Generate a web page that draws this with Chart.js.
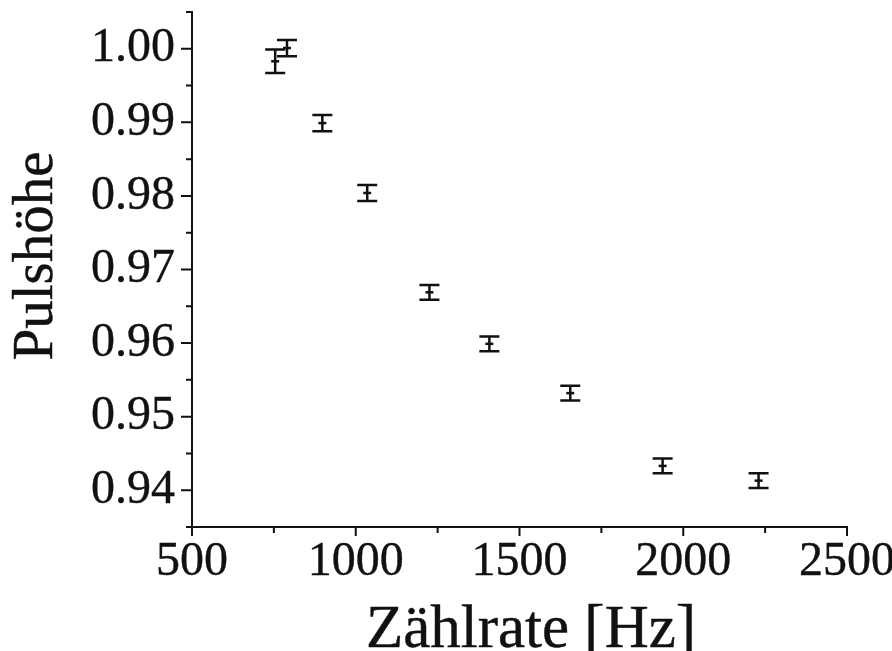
<!DOCTYPE html>
<html>
<head>
<meta charset="utf-8">
<title>Pulshöhe vs. Zählrate</title>
<script src="https://cdn.jsdelivr.net/npm/chart.js@4/dist/chart.umd.min.js"></script>
<style>
  html, body { margin: 0; padding: 0; background: #ffffff; }
  canvas { display: block; }
</style>
</head>
<body>
<canvas id="c" width="892" height="651"></canvas>
<script>
// Count rate (Hz), relative pulse height and its uncertainty
const countRate   = [754, 790, 898, 1035, 1225, 1408, 1655, 1937, 2230];
const pulseHeight = [0.9983, 1.0001, 0.9899, 0.9804, 0.9669, 0.9599, 0.9532, 0.9433, 0.9413];
const pulseError  = [0.0016, 0.0011, 0.0011, 0.0011, 0.0010, 0.0010, 0.0010, 0.0010, 0.0010];

// Axis ranges and tick spacing (labelled ticks every 500 Hz / 0.01)
const xRange = [500, 2500];
const xStep = 250;
const yRange = [0.935, 1.005];
const yStep = 0.005;

const xTitle = 'Zählrate [Hz]';
const yTitle = 'Pulshöhe';

const INK = '#111111';
const SERIF = "'Liberation Serif', 'Times New Roman', serif";

const points = countRate.map((x, i) => ({ x: x, y: pulseHeight[i], err: pulseError[i] }));

const isMajorX = v => Math.round(v) % 500 === 0;
const isMajorY = v => Math.round(v * 1000) % 10 === 0;

// Error bars with caps, drawn through the chart's scales
const errorBars = {
  id: 'errorBars',
  afterDatasetsDraw(chart) {
    const { ctx, scales: { x, y } } = chart;
    ctx.save();
    ctx.strokeStyle = INK;
    ctx.lineWidth = 2.5;
    ctx.lineCap = 'butt';
    chart.data.datasets[0].data.forEach(p => {
      const px = x.getPixelForValue(p.x);
      const top = y.getPixelForValue(p.y + p.err);
      const bot = y.getPixelForValue(p.y - p.err);
      const cap = 10;
      ctx.beginPath();
      ctx.moveTo(px, top); ctx.lineTo(px, bot);
      ctx.moveTo(px - cap, top); ctx.lineTo(px + cap, top);
      ctx.moveTo(px - cap, bot); ctx.lineTo(px + cap, bot);
      ctx.stroke();
    });
    ctx.restore();
  }
};

// Outward tick marks (long for labelled values, short in between) and axis titles
const axisDecor = {
  id: 'axisDecor',
  afterDraw(chart) {
    const { ctx, scales: { x, y }, chartArea } = chart;
    ctx.save();
    ctx.strokeStyle = INK;
    ctx.lineWidth = 2;
    ctx.beginPath();
    x.ticks.forEach(t => {
      const px = x.getPixelForValue(t.value);
      const len = isMajorX(t.value) ? 9 : 6;
      ctx.moveTo(px, chartArea.bottom);
      ctx.lineTo(px, chartArea.bottom + len);
    });
    y.ticks.forEach(t => {
      const py = y.getPixelForValue(t.value);
      const len = isMajorY(t.value) ? 11 : 6;
      ctx.moveTo(chartArea.left, py);
      ctx.lineTo(chartArea.left - len, py);
    });
    ctx.stroke();

    ctx.fillStyle = INK;
    ctx.lineWidth = 0.45;
    ctx.textAlign = 'center';
    ctx.textBaseline = 'alphabetic';
    ctx.font = '61px ' + SERIF;
    ctx.fillText(xTitle, 531, 647);
    ctx.strokeText(xTitle, 531, 647);

    ctx.save();
    ctx.translate(52, 256);
    ctx.rotate(-Math.PI / 2);
    ctx.font = '57px ' + SERIF;
    ctx.fillText(yTitle, 0, 0);
    ctx.strokeText(yTitle, 0, 0);
    ctx.restore();
    ctx.restore();
  }
};

const noOverflow = s => { s.paddingTop = 0; s.paddingBottom = 0; s.paddingLeft = 0; s.paddingRight = 0; };

const tickFont = { family: SERIF, size: 48, lineHeight: 1 };

new Chart(document.getElementById('c'), {
  type: 'scatter',
  data: {
    datasets: [{
      label: yTitle,
      data: points,
      pointStyle: 'line',
      pointRadius: 4,
      pointHoverRadius: 4,
      borderColor: INK,
      backgroundColor: INK,
      borderWidth: 2.5,
      showLine: false
    }]
  },
  options: {
    responsive: false,
    animation: false,
    devicePixelRatio: 1,
    layout: { padding: { top: 12, right: 45, left: 0, bottom: 0 } },
    plugins: { legend: { display: false }, tooltip: { enabled: false } },
    scales: {
      x: {
        type: 'linear',
        min: xRange[0],
        max: xRange[1],
        grid: { display: false, drawTicks: true, tickLength: 9 },
        border: { display: true, color: INK, width: 2 },
        ticks: {
          stepSize: xStep,
          autoSkip: false,
          maxRotation: 0,
          padding: 2,
          color: INK,
          textStrokeColor: INK,
          textStrokeWidth: 0.4,
          font: tickFont,
          callback: v => (isMajorX(v) ? String(Math.round(v)) : '')
        },
        afterFit: s => { s.height = 124; noOverflow(s); }
      },
      y: {
        type: 'linear',
        min: yRange[0],
        max: yRange[1],
        grid: { display: false, drawTicks: true, tickLength: 11 },
        border: { display: true, color: INK, width: 2 },
        ticks: {
          stepSize: yStep,
          autoSkip: false,
          padding: 6,
          color: INK,
          textStrokeColor: INK,
          textStrokeWidth: 0.4,
          font: tickFont,
          callback: v => (isMajorY(v) ? v.toFixed(2) : '')
        },
        afterFit: s => { s.width = 192; noOverflow(s); }
      }
    }
  },
  plugins: [errorBars, axisDecor]
});
</script>
</body>
</html>
